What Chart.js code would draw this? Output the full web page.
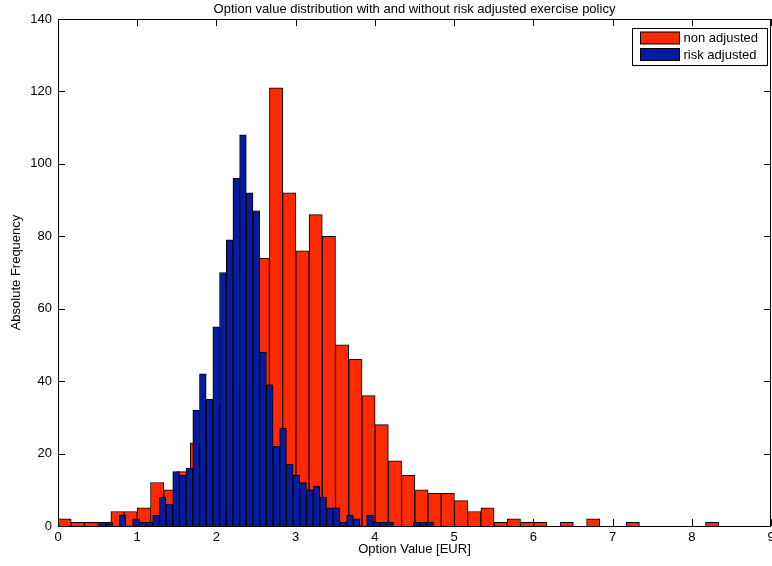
<!DOCTYPE html>
<html><head><meta charset="utf-8">
<script src="https://cdn.jsdelivr.net/npm/chart.js@4.4.1/dist/chart.umd.min.js"></script>
<style>html,body{margin:0;padding:0;background:#fff;overflow:hidden}canvas{display:block}</style>
</head><body>
<canvas id="c" width="772" height="566"></canvas>
<script>
const titleText = 'Option value distribution with and without risk adjusted exercise policy';
const xLabel = 'Option Value [EUR]';
const yLabel = 'Absolute Frequency';
const seriesNames = ['non adjusted', 'risk adjusted'];

// bin centres (Option Value, EUR) and counts
const nonAdjCenters = [0.0834,0.2502,0.4170,0.5838,0.7506,0.9174,1.0842,1.2510,1.4178,1.5846,
  1.7514,1.9182,2.0850,2.2518,2.4186,2.5854,2.7522,2.9190,3.0858,3.2526,
  3.4194,3.5862,3.7530,3.9198,4.0866,4.2534,4.4202,4.5870,4.7538,4.9206,
  5.0874,5.2542,5.4210,5.5878,5.7546,5.9214,6.0882,6.2550,6.4218,6.5886,
  6.7554,6.9222,7.0890,7.2558,7.4226,7.5894,7.7562,7.9230,8.0898,8.2566];
const nonAdjCounts = [2,1,1,1,4,4,5,12,10,15,
  23,27,33,39,48,74,121,92,76,86,
  80,50,46,36,28,18,14,10,9,9,
  7,4,5,1,2,1,1,0,1,0,
  2,0,0,1,0,0,0,0,0,1];

const riskAdjCenters = [0.5622,0.6466,0.7310,0.8154,0.8998,0.9842,1.0686,1.1530,1.2374,1.3218,
  1.4062,1.4906,1.5750,1.6594,1.7438,1.8282,1.9126,1.9970,2.0814,2.1658,
  2.2502,2.3346,2.4190,2.5034,2.5878,2.6722,2.7566,2.8410,2.9254,3.0098,
  3.0942,3.1786,3.2630,3.3474,3.4318,3.5162,3.6006,3.6850,3.7694,3.8538,
  3.9382,4.0226,4.1070,4.1914,4.2758,4.3602,4.4446,4.5290,4.6134,4.6978];
const riskAdjCounts = [1,1,0,3,0,2,1,1,3,8,
  6,15,14,16,32,42,35,55,70,79,
  96,108,92,87,48,39,22,27,17,14,
  12,10,11,8,5,5,1,3,2,0,
  3,1,1,1,0,0,0,1,1,1];

const xTickValues = [0,1,2,3,4,5,6,7,8,9];
const yTickValues = [0,20,40,60,80,100,120,140];

const RED = '#ff2a00';
const BLUE = '#061c9e';
const FONT = '"Liberation Sans", Arial, Helvetica, sans-serif';

Chart.defaults.font.family = FONT;
Chart.defaults.font.size = 13;
Chart.defaults.color = '#000';

const matlabAxes = {
  id: 'matlabAxes',
  beforeDatasetsDraw(chart) {
    const {ctx, chartArea: a, scales: {x, y}} = chart;
    const tl = 7;
    ctx.save();
    ctx.strokeStyle = '#000';
    ctx.lineWidth = 1;
    ctx.beginPath();
    xTickValues.forEach(v => {
      const px = Math.round(x.getPixelForValue(v)) + 0.5;
      ctx.moveTo(px, a.bottom); ctx.lineTo(px, a.bottom - tl);
      ctx.moveTo(px, a.top); ctx.lineTo(px, a.top + tl);
    });
    yTickValues.forEach(v => {
      const py = Math.round(y.getPixelForValue(v)) + 0.5;
      ctx.moveTo(a.left, py); ctx.lineTo(a.left + tl, py);
      ctx.moveTo(a.right, py); ctx.lineTo(a.right - tl, py);
    });
    ctx.stroke();
    ctx.restore();
  },
  afterDatasetsDraw(chart) {
    const {ctx, chartArea: a} = chart;
    ctx.save();
    ctx.strokeStyle = '#000';
    ctx.lineWidth = 1;
    ctx.strokeRect(Math.round(a.left) + 0.5, Math.round(a.top) + 0.5,
      Math.round(a.right - a.left) - 1, Math.round(a.bottom - a.top));
    // legend
    const bx = 632.5, by = 28.5, bw = 135, bh = 37;
    ctx.fillStyle = '#fff';
    ctx.fillRect(bx, by, bw, bh);
    ctx.strokeRect(bx, by, bw, bh);
    chart.data.datasets.forEach((ds, i) => {
      const sy = by + 3.5 + i * 16.5;
      ctx.fillStyle = ds.backgroundColor;
      ctx.fillRect(bx + 8, sy, 39, 12);
      ctx.strokeRect(bx + 8, sy, 39, 12);
      ctx.fillStyle = '#000';
      ctx.font = '13px ' + FONT;
      ctx.textAlign = 'left';
      ctx.textBaseline = 'middle';
      ctx.fillText(ds.label, bx + 51, sy + 6.5);
    });
    ctx.restore();
  },
  afterDraw(chart) {
    const {ctx, chartArea: a} = chart;
    ctx.save();
    ctx.fillStyle = '#000';
    ctx.font = '13px ' + FONT;
    ctx.textAlign = 'center';
    ctx.textBaseline = 'middle';
    ctx.fillText(titleText, (a.left + a.right) / 2, 9);
    ctx.restore();
  }
};

new Chart(document.getElementById('c'), {
  type: 'bar',
  data: {
    datasets: [
      {
        label: seriesNames[0],
        data: nonAdjCenters.map((c, i) => ({x: c, y: nonAdjCounts[i]})),
        xAxisID: 'x',
        backgroundColor: RED,
        borderColor: '#000',
        borderWidth: 1,
        barPercentage: 1,
        categoryPercentage: 1,
        grouped: false,
        order: 2
      },
      {
        label: seriesNames[1],
        data: riskAdjCenters.map((c, i) => ({x: c, y: riskAdjCounts[i]})),
        xAxisID: 'x2',
        backgroundColor: BLUE,
        borderColor: '#000',
        borderWidth: 1,
        barPercentage: 1,
        categoryPercentage: 1,
        grouped: false,
        order: 1
      }
    ]
  },
  options: {
    responsive: false,
    animation: false,
    devicePixelRatio: 1,
    layout: {padding: {top: 19, right: 1, bottom: 0, left: 0}},
    plugins: {legend: {display: false}, tooltip: {enabled: false}, title: {display: false}},
    scales: {
      x: {
        type: 'linear', min: 0, max: 9, offset: false,
        grid: {display: false, drawTicks: false, offset: false},
        border: {display: false},
        ticks: {padding: 4, autoSkip: false, maxRotation: 0, color: '#000'},
        title: {display: true, text: xLabel, color: '#000', padding: {top: 0, bottom: 9}},
        afterBuildTicks: s => { s.ticks = xTickValues.map(v => ({value: v})); },
        afterFit: s => { s.height = 40; s.paddingLeft = 0; s.paddingRight = 0; }
      },
      x2: {
        type: 'linear', min: 0, max: 9, offset: false, display: false,
        grid: {offset: false}
      },
      y: {
        type: 'linear', min: 0, max: 140,
        grid: {display: false, drawTicks: false},
        border: {display: false},
        ticks: {padding: 6, color: '#000'},
        title: {display: true, text: yLabel, color: '#000', padding: {top: 9, bottom: 0}},
        afterBuildTicks: s => { s.ticks = yTickValues.map(v => ({value: v})); },
        afterFit: s => { s.width = 58; s.paddingTop = 0; s.paddingBottom = 0; }
      }
    }
  },
  plugins: [matlabAxes]
});
</script>
</body></html>
